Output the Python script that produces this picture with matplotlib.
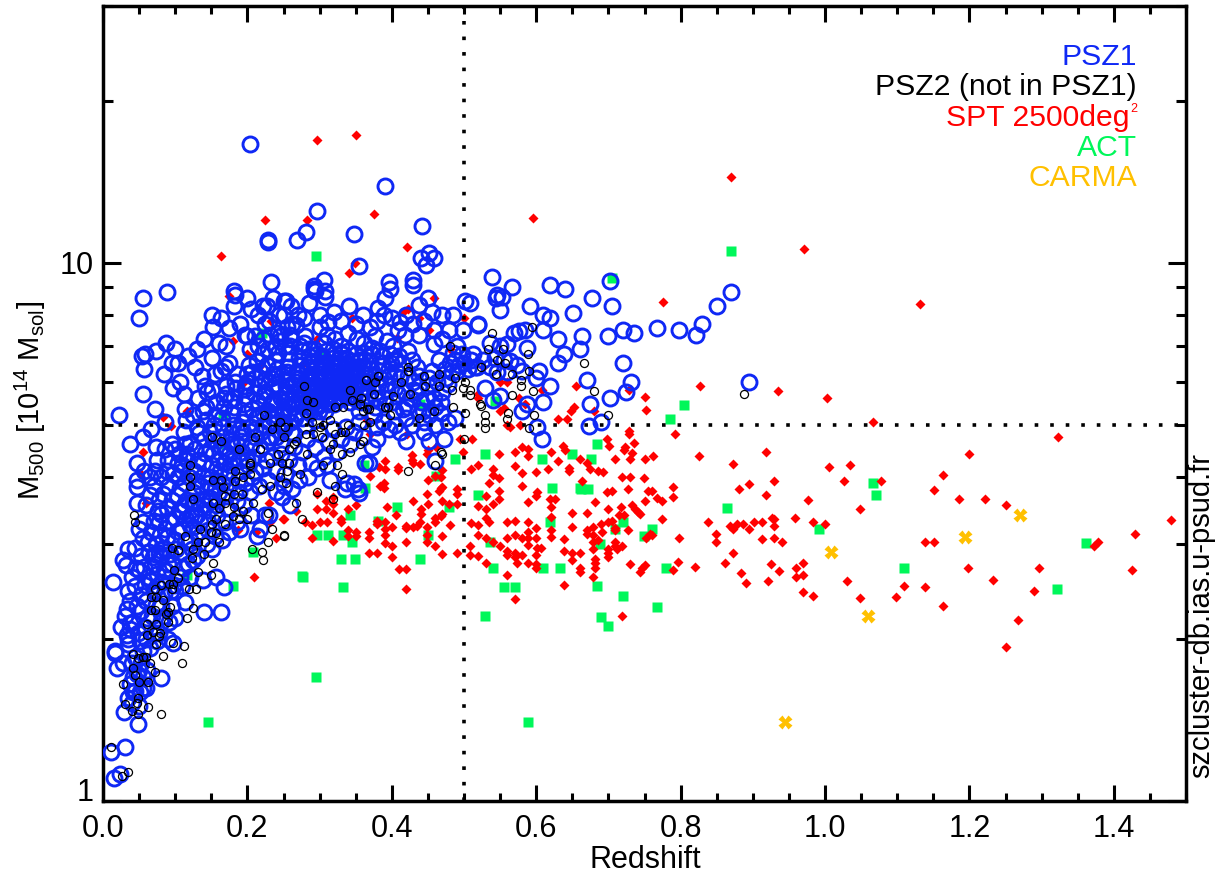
"""Galaxy cluster mass vs redshift: PSZ1, PSZ2, SPT, ACT and CARMA samples."""
import matplotlib
matplotlib.use("Agg")
import matplotlib.pyplot as plt
import numpy as np
from matplotlib.ticker import FixedLocator, NullFormatter

plt.rcParams["font.family"] = ["Liberation Sans", "DejaVu Sans"]
plt.rcParams["mathtext.fontset"] = "custom"
plt.rcParams["mathtext.rm"] = "Liberation Sans"
plt.rcParams["mathtext.default"] = "regular"

BLUE = "#0f28f5"
RED = "#ff0000"
GREEN = "#00f75a"
ORANGE = "#ffc000"

# (redshift, M500 in 1e14 Msol)
carma = [(1.270, 3.40), (1.194, 3.09), (1.009, 2.90), (1.059, 2.20), (0.944, 1.40)]

act = [
    (.295, 10.3), (.870, 10.5), (.705, 9.38), (.295, 1.70), (.1455, 1.40), (.589, 1.40),
    (.180, 2.50), (.276, 2.61), (.488, 4.31), (.529, 4.40), (.608, 4.31), (.650, 4.40),
    (.361, 4.21), (.461, 4.02), (.622, 3.81), (.661, 3.81), (.520, 3.70), (.363, 3.81),
    (.407, 3.51), (.479, 3.51), (.342, 3.39), (.381, 3.31), (.619, 3.30), (.333, 3.12),
    (.297, 3.12), (.311, 3.12), (.345, 3.02), (.450, 3.12), (.536, 3.02), (.330, 2.81),
    (.349, 2.81), (.439, 2.81), (.540, 2.70), (.610, 2.70), (.633, 2.70), (.277, 2.60),
    (.333, 2.49), (.556, 2.49), (.570, 2.49), (.529, 2.20), (.684, 4.60), (.676, 4.31),
    (.662, 3.79), (.672, 3.79), (.864, 3.50), (.991, 3.20), (.720, 3.29), (.709, 3.20),
    (.760, 3.20), (.749, 3.10), (.689, 3.00), (.780, 2.70), (.684, 2.50), (.720, 2.40),
    (.767, 2.29), (.690, 2.19), (.700, 2.11), (.805, 5.43), (.786, 5.12), (.543, 5.52),
    (1.066, 3.90), (1.070, 3.70), (1.361, 3.01), (1.110, 2.70), (1.321, 2.47),
    (.220, 7.40), (.166, 5.20), (.168, 4.60), (.439, 5.47), (.116, 2.63), (.208, 2.90),
    (.300, 6.80),
]

spt = [
    # low redshift, mostly behind the PSZ1 circles
    (.175, 8.66), (.233, 7.80), (.180, 7.15), (.200, 6.75), (.219, 6.45), (.195, 6.00),
    (.116, 5.30), (.083, 5.17), (.094, 4.97), (.055, 4.45), (.051, 4.07), (.060, 3.57),
    (.230, 3.57), (.249, 3.33), (.240, 3.08), (.209, 2.60), (.231, 3.30), (.212, 3.15),
    (.187, 3.18), (.423, 8.20), (.416, 8.10), (.438, 7.90), (.458, 8.60), (.451, 7.50),
    (.500, 7.90), (.480, 6.90), (.296, 7.20), (.278, 6.50), (.407, 7.25), (.345, 7.90),
    (.519, 5.70), (.495, 4.70), (.511, 4.70), (.421, 4.80), (.449, 4.40), (.428, 4.30),
    (.370, 4.80), (.365, 5.10),
    # high masses
    (.296, 16.9), (.351, 17.3), (.375, 12.3), (.225, 12.0), (.283, 12.0), (.164, 10.3),
    (.421, 10.7), (.349, 10.0), (.341, 9.56), (.596, 12.1), (.870, 14.4), (.971, 10.6),
    (1.132, 8.36), (.775, 8.45), (.827, 5.90), (1.003, 5.60), (.935, 5.78), (1.066, 5.05),
    (.655, 5.90), (.750, 5.62), (.752, 5.32), (.729, 5.80), (.652, 5.40), (.648, 5.30),
    (.630, 5.13), (.642, 5.13), (.680, 5.30), (.729, 4.87), (.792, 4.80), (.555, 5.37),
    (.550, 5.30), (.560, 6.00), (.550, 6.00), (.520, 5.60), (.527, 6.40), (.576, 5.60),
    (.585, 5.45), (.608, 5.80), (.578, 5.00), (.564, 4.95), (.559, 5.00),
    # z 0.25 to 0.63
    (.390, 4.28), (.382, 4.17), (.391, 4.13), (.409, 4.17), (.409, 4.12), (.428, 4.39),
    (.430, 4.25), (.439, 4.23), (.450, 4.49), (.461, 4.54), (.470, 4.11), (.460, 4.02),
    (.450, 3.95), (.468, 4.00), (.498, 4.45), (.510, 4.14), (.520, 4.21), (.540, 4.13),
    (.540, 4.03), (.549, 4.40), (.549, 3.98), (.534, 3.89), (.570, 4.19), (.571, 4.45),
    (.580, 4.07), (.580, 4.55), (.589, 4.50), (.589, 4.37), (.600, 4.08), (.617, 4.13),
    (.620, 4.45), (.630, 4.28), (.370, 4.02), (.384, 3.85), (.389, 3.90), (.389, 3.81),
    (.449, 3.71), (.468, 3.81), (.470, 3.83), (.466, 3.76), (.490, 3.79), (.490, 3.72),
    (.430, 3.61), (.450, 3.56), (.470, 3.60), (.479, 3.56), (.490, 3.56), (.394, 3.52),
    (.406, 3.40), (.440, 3.48), (.440, 3.41), (.470, 3.41), (.468, 3.38), (.460, 3.35),
    (.460, 3.30), (.439, 3.30), (.435, 3.24), (.430, 3.22), (.419, 3.24), (.419, 3.21),
    (.449, 3.23), (.449, 3.12), (.449, 3.03), (.480, 3.25), (.470, 3.10), (.460, 2.97),
    (.470, 2.87), (.490, 2.89), (.419, 3.02), (.400, 3.23), (.390, 3.30), (.380, 3.31),
    (.379, 3.26), (.390, 3.20), (.390, 3.11), (.390, 3.01), (.400, 2.97), (.369, 3.15),
    (.369, 3.08), (.350, 3.16), (.350, 3.10), (.340, 3.19), (.340, 3.10), (.369, 2.88),
    (.380, 2.89), (.400, 2.83), (.410, 2.69), (.420, 2.69), (.419, 2.47), (.319, 3.04),
    (.290, 3.08), (.290, 3.25), (.300, 3.29), (.310, 3.29), (.280, 3.29), (.329, 3.34),
    (.329, 3.29), (.250, 3.33), (.268, 3.45), (.296, 3.49), (.309, 3.61), (.309, 3.49),
    (.319, 3.67), (.319, 3.56), (.319, 3.43), (.340, 3.49), (.350, 3.54), (.296, 3.72),
    (.510, 3.28), (.520, 3.25), (.520, 3.12), (.530, 3.08), (.540, 3.03), (.530, 3.49),
    (.540, 3.56), (.520, 3.53), (.530, 3.69), (.549, 3.76), (.549, 3.63), (.530, 3.35),
    (.535, 3.29), (.559, 3.29), (.570, 3.31), (.580, 3.84), (.601, 3.74), (.600, 3.68),
    (.589, 3.59), (.619, 3.63), (.626, 3.63), (.620, 3.51), (.620, 3.36), (.589, 3.29),
    (.600, 3.21), (.589, 3.16), (.589, 3.08), (.620, 3.19), (.620, 3.09), (.600, 3.08),
    (.580, 3.07), (.570, 3.12), (.559, 3.07), (.589, 2.98), (.601, 2.95), (.606, 2.95),
    (.550, 2.97), (.559, 2.91), (.559, 2.86), (.570, 2.89), (.570, 2.83), (.580, 2.86),
    (.574, 2.77), (.589, 2.77), (.600, 2.86), (.600, 2.75), (.600, 2.71), (.509, 2.97),
    (.509, 2.86), (.520, 2.85), (.530, 2.76), (.559, 2.63), (.570, 2.37),
    # z 0.63 to 1.05
    (.698, 4.70), (.701, 4.56), (.637, 4.57), (.640, 4.49), (.729, 4.81), (.736, 4.62),
    (.723, 4.54), (.721, 4.49), (.733, 4.42), (.730, 4.31), (.709, 4.32), (.660, 4.31),
    (.670, 4.24), (.675, 4.13), (.686, 4.09), (.692, 4.08), (.645, 4.16), (.645, 4.09),
    (.750, 4.31), (.762, 4.37), (.826, 4.37), (.872, 4.23), (.918, 4.45), (1.006, 4.17),
    (1.034, 4.21), (1.026, 3.92), (.719, 4.00), (.730, 4.00), (.749, 3.97), (.663, 3.93),
    (.790, 3.82), (.727, 3.79), (.698, 3.75), (.705, 3.76), (.755, 3.77), (.760, 3.76),
    (.790, 3.67), (.767, 3.65), (.774, 3.61), (.750, 3.61), (.681, 3.59), (.733, 3.55),
    (.737, 3.49), (.741, 3.44), (.744, 3.41), (.718, 3.51), (.699, 3.48), (.650, 3.43),
    (.670, 3.42), (.715, 3.40), (.722, 3.40), (.774, 3.34), (.705, 3.31), (.699, 3.29),
    (.690, 3.26), (.679, 3.23), (.650, 3.22), (.670, 3.18), (.670, 3.13), (.679, 3.12),
    (.691, 3.15), (.709, 3.21), (.709, 3.18), (.727, 3.18), (.639, 3.06), (.686, 3.05),
    (.679, 3.02), (.709, 3.03), (.709, 2.97), (.719, 2.97), (.712, 2.94), (.679, 2.93),
    (.700, 2.94), (.700, 2.88), (.700, 2.84), (.639, 2.91), (.650, 2.89), (.660, 2.88),
    (.650, 2.80), (.681, 2.81), (.681, 2.77), (.681, 2.70), (.679, 2.60), (.660, 2.71),
    (.660, 2.66), (.639, 2.52), (.730, 2.75), (.750, 2.74), (.747, 2.70), (.744, 2.66),
    (.757, 3.13), (.761, 3.11), (.752, 3.08), (.798, 3.07), (.790, 2.68), (.797, 2.78),
    (.820, 2.72), (.838, 3.30), (.849, 3.13), (.849, 3.03), (.869, 3.24), (.872, 3.20),
    (.878, 3.26), (.887, 3.27), (.895, 3.20), (.901, 3.29), (.913, 3.30), (.927, 3.35),
    (.930, 3.33), (.930, 3.24), (.959, 3.35), (.983, 3.29), (1.000, 3.26), (.913, 3.06),
    (.930, 3.07), (.940, 3.03), (.872, 2.89), (.861, 2.76), (.884, 2.65), (.890, 2.54),
    (.925, 2.75), (.936, 2.67), (.921, 2.56), (.970, 2.76), (.960, 2.70), (.970, 2.63),
    (.960, 2.60), (.970, 2.44), (.983, 2.40), (1.030, 2.56), (.719, 2.20), (.881, 3.79),
    (.895, 3.87), (.930, 3.92), (.918, 3.70), (.977, 3.62), (1.049, 3.49), (1.049, 2.38),
    # z above 1.05
    (1.323, 4.74), (1.200, 4.41), (1.163, 4.03), (1.151, 3.78), (1.186, 3.63), (1.221, 3.64),
    (1.250, 3.55), (1.077, 3.92), (1.479, 3.32), (1.430, 3.13), (1.378, 3.03), (1.372, 2.97),
    (1.139, 3.03), (1.151, 3.02), (1.198, 2.70), (1.233, 2.57), (1.297, 2.70), (1.425, 2.68),
    (1.290, 2.45), (1.110, 2.50), (1.099, 2.39), (1.139, 2.49), (1.163, 2.30), (1.267, 2.17),
    (1.250, 1.93),
]

psz1 = [
    # outliers and upper fringe
    (.203, 16.6), (.390, 13.9), (.296, 12.5), (.442, 11.7), (.347, 11.3), (.281, 11.4),
    (.269, 11.0), (.228, 11.0), (.228, 10.9), (.451, 10.4), (.440, 10.2), (.459, 10.2),
    (.447, 9.90), (.355, 9.85), (.232, 9.20), (.306, 9.30), (.292, 8.95), (.294, 8.85),
    (.308, 8.65), (.397, 8.95), (.429, 9.10), (.183, 8.70),
    # z above 0.5
    (.539, 9.40), (.566, 9.00), (.619, 9.10), (.640, 8.95), (.677, 8.60), (.705, 8.30),
    (.702, 9.25), (.546, 8.70), (.544, 8.60), (.552, 8.65), (.550, 8.15), (.591, 8.30),
    (.610, 8.00), (.619, 7.90), (.651, 8.05), (.520, 7.65), (.569, 7.40), (.576, 7.45),
    (.585, 7.50), (.609, 7.50), (.630, 7.20), (.663, 7.30), (.700, 7.30), (.720, 7.50),
    (.735, 7.40), (.768, 7.55), (.798, 7.50), (.822, 7.35), (.830, 7.70), (.850, 8.30),
    (.870, 8.80), (.587, 6.95), (.660, 6.90), (.639, 6.75), (.630, 6.50), (.720, 6.50),
    (.536, 7.10), (.550, 7.00), (.559, 7.05), (.604, 6.30), (.600, 6.10), (.670, 6.05),
    (.731, 6.00), (.619, 5.90), (.895, 6.00), (.724, 5.75), (.702, 5.60), (.529, 5.85),
    (.540, 5.55), (.550, 5.65), (.609, 5.50), (.587, 5.45), (.581, 5.30), (.675, 5.45),
    (.690, 5.05), (.673, 4.97), (.601, 4.95), (.608, 4.70), (.509, 8.40), (.518, 6.40),
    (.527, 6.60), (.543, 6.65), (.555, 6.60), (.564, 6.55), (.573, 6.45), (.580, 6.30),
    (.536, 6.40), (.546, 6.25), (.559, 6.25),
    # z 0.25 to 0.5, upper part
    (.396, 9.20), (.430, 9.30), (.308, 8.85), (.292, 9.05), (.254, 8.50), (.341, 8.30),
    (.390, 8.60), (.381, 8.25), (.389, 8.00), (.437, 8.35), (.450, 8.60), (.455, 8.10),
    (.502, 8.50), (.485, 8.00), (.469, 8.00), (.520, 7.70), (.459, 7.50), (.479, 7.50),
    (.499, 7.50), (.300, 8.00), (.279, 7.90), (.268, 7.65), (.255, 7.60), (.312, 7.75),
    (.350, 7.70), (.370, 7.60), (.411, 7.75), (.408, 7.50), (.340, 7.40), (.321, 7.20),
    (.310, 7.35), (.280, 7.30), (.259, 7.35), (.245, 7.30), (.285, 6.90), (.252, 7.00),
    (.331, 6.75), (.377, 7.30), (.393, 7.15), (.418, 7.35), (.437, 7.35), (.458, 7.05),
    (.485, 6.80), (.423, 6.85), (.405, 6.60), (.384, 6.85), (.361, 7.10), (.356, 6.60),
    (.305, 6.50), (.319, 6.40),
    # left edge, z below 0.25
    (.089, 8.80), (.055, 8.60), (.050, 7.90), (.182, 8.85), (.181, 8.30), (.205, 8.20),
    (.222, 8.30), (.227, 8.30), (.251, 8.50), (.151, 8.00), (.164, 7.90), (.152, 7.60),
    (.197, 7.35), (.199, 7.30), (.170, 7.00), (.087, 7.10), (.054, 6.70), (.058, 6.75),
    (.074, 6.85), (.151, 6.65), (.095, 6.50), (.104, 6.50), (.127, 6.40), (.057, 6.35),
    (.137, 6.15), (.174, 6.50), (.169, 6.40), (.163, 6.30), (.107, 6.00), (.097, 5.85),
    (.055, 5.70), (.141, 5.90), (.151, 5.80), (.170, 5.90), (.207, 6.25), (.196, 5.90),
    (.072, 5.35), (.022, 5.20), (.114, 5.35), (.132, 5.60), (.139, 5.30), (.144, 5.75),
    (.176, 5.55), (.086, 5.05), (.067, 4.90), (.055, 4.75), (.112, 4.85), (.114, 4.60),
    (.038, 4.60), (.073, 4.55), (.047, 4.25), (.057, 4.10), (.086, 4.50), (.116, 4.30),
    (.072, 4.10), (.088, 4.10), (.104, 4.25), (.148, 4.85), (.148, 4.50), (.176, 4.65),
    (.167, 4.25), (.047, 3.95), (.065, 4.00), (.047, 3.83), (.047, 3.57), (.078, 3.62),
    (.034, 2.94), (.044, 2.95), (.028, 2.80), (.032, 2.74), (.050, 2.68), (.014, 2.55),
    (.077, 3.30), (.056, 3.07), (.072, 2.87), (.084, 2.68), (.058, 2.52), (.033, 2.27),
    (.047, 2.30), (.140, 2.24), (.164, 2.24), (.167, 2.49), (.157, 2.60), (.139, 2.57),
    (.151, 2.93), (.114, 2.34), (.100, 2.18), (.097, 1.96), (.017, 1.90), (.028, 1.80),
    (.037, 2.08), (.037, 2.14), (.033, 2.03), (.051, 1.98), (.248, 3.67), (.224, 3.40),
    (.213, 3.10), (.017, 1.88), (.019, 1.76), (.081, 1.69), (.042, 1.59), (.051, 1.59),
    (.056, 1.62), (.029, 1.46), (.049, 1.39), (.031, 1.26), (.011, 1.23), (.023, 1.12),
    (.015, 1.10), (.037, 1.65), (.042, 1.70), (.061, 1.75),
    # lower edge of the cloud
    (.363, 4.25), (.335, 3.80), (.353, 3.80), (.315, 3.95), (.230, 3.40), (.218, 3.20),
    (.259, 3.55), (.338, 3.90), (.348, 3.88), (.355, 3.73), (.368, 4.25), (.460, 4.28),
    (.472, 4.70), (.452, 4.65), (.379, 4.95), (.421, 5.40), (.437, 5.90),
]

# the solid part of the cloud: single circles cannot be told apart here, so
# these only follow how far the blue extends at each redshift
psz1_crowd = [
    (.034, 2.00), (.038, 2.35), (.041, 2.15), (.044, 2.50), (.046, 2.70), (.048, 2.05),
    (.052, 2.25), (.053, 2.85), (.055, 1.90), (.058, 2.10), (.060, 2.35), (.062, 2.60),
    (.064, 2.90), (.066, 3.15), (.068, 2.20), (.070, 2.45), (.072, 2.75), (.074, 3.00),
    (.076, 3.45), (.078, 2.05), (.080, 2.30), (.082, 2.55), (.084, 2.95), (.086, 3.20),
    (.088, 3.50), (.090, 3.85), (.092, 2.15), (.094, 2.45), (.096, 2.75), (.098, 3.05),
    (.100, 3.35), (.102, 3.70), (.104, 4.00), (.106, 2.60), (.108, 2.90), (.110, 3.20),
    (.112, 3.55), (.114, 3.90), (.116, 4.40), (.118, 2.75), (.120, 3.05), (.122, 3.40),
    (.124, 3.75), (.126, 4.10), (.128, 4.50), (.130, 2.85), (.132, 3.15), (.134, 3.50),
    (.136, 3.85), (.138, 4.25), (.140, 4.70), (.142, 5.10), (.144, 3.00), (.146, 3.30),
    (.148, 3.65), (.150, 4.00), (.152, 4.40), (.154, 5.00), (.156, 5.50), (.158, 3.40),
    (.160, 3.75), (.162, 4.10), (.164, 4.55), (.166, 4.95), (.168, 5.40), (.170, 5.70),
    (.172, 3.50), (.174, 3.85), (.176, 4.20), (.178, 4.60), (.180, 5.00), (.182, 5.40),
    (.184, 5.85), (.186, 6.20), (.188, 3.75), (.190, 4.10), (.192, 4.45), (.194, 4.85),
    (.196, 5.25), (.198, 5.65), (.200, 6.00), (.202, 6.45), (.204, 6.90), (.206, 4.00),
    (.208, 4.35), (.210, 4.75), (.212, 5.15), (.214, 5.50), (.216, 5.90), (.218, 6.30),
    (.220, 6.75), (.222, 7.20), (.224, 7.70), (.226, 4.30), (.228, 4.65), (.230, 5.05),
    (.232, 5.45), (.234, 5.85), (.236, 6.20), (.238, 6.60), (.240, 7.00), (.242, 7.40),
    (.244, 8.00), (.246, 4.60), (.248, 5.00), (.250, 5.30), (.252, 5.70), (.254, 6.05),
    (.256, 6.40), (.258, 6.80), (.260, 7.20), (.262, 7.70), (.264, 4.80), (.266, 5.15),
    (.268, 5.50), (.270, 5.80), (.272, 6.10), (.274, 6.45), (.276, 6.85), (.278, 7.10),
    (.280, 5.00), (.282, 5.30), (.284, 5.60), (.286, 5.90), (.288, 6.20), (.290, 6.55),
    (.292, 6.90), (.294, 5.10), (.296, 5.40), (.298, 5.70), (.300, 6.00), (.302, 6.30),
    (.304, 6.70), (.306, 7.10), (.308, 5.30), (.310, 5.60), (.312, 5.85), (.314, 6.15),
    (.316, 6.50), (.318, 6.90), (.320, 5.45), (.322, 5.75), (.324, 6.00), (.326, 6.30),
    (.328, 6.65), (.330, 7.00), (.332, 5.60), (.334, 5.90), (.336, 6.20), (.338, 6.50),
    (.340, 6.85), (.342, 5.50), (.344, 5.80), (.346, 6.10), (.348, 6.40), (.350, 6.75),
    (.352, 7.20), (.354, 5.30), (.356, 5.70), (.358, 6.05), (.360, 6.40), (.362, 6.80),
    (.364, 5.50), (.366, 5.85), (.368, 6.20), (.370, 6.55), (.372, 6.95), (.375, 5.20),
    (.378, 5.60), (.381, 5.95), (.384, 6.30), (.387, 6.70), (.390, 5.45), (.393, 5.80),
    (.396, 6.15), (.399, 6.50), (.402, 7.00), (.405, 5.30), (.408, 5.70), (.411, 6.10),
    (.414, 6.50), (.420, 5.15), (.425, 5.60), (.430, 6.00), (.435, 6.40), (.440, 5.50),
    (.445, 5.05), (.450, 5.90), (.455, 6.30), (.460, 5.40), (.465, 6.60), (.470, 5.75),
    (.475, 6.10), (.480, 6.50), (.490, 6.30), (.500, 6.50), (.510, 6.60), (.515, 6.40),
    (.053, 2.41), (.057, 2.72), (.061, 2.18), (.063, 3.02), (.067, 2.56), (.069, 2.83),
    (.071, 3.31), (.073, 2.31), (.075, 2.64), (.077, 2.88), (.079, 3.12), (.081, 3.41),
    (.083, 3.72), (.085, 2.42), (.087, 2.67), (.089, 3.09), (.091, 3.31), (.093, 2.87),
    (.095, 3.62), (.097, 4.05), (.099, 2.52), (.101, 2.93), (.103, 3.17), (.105, 3.46),
    (.107, 3.81), (.109, 4.20), (.111, 2.71), (.113, 3.02), (.115, 3.33), (.117, 3.62),
    (.119, 4.00), (.121, 4.62), (.123, 2.94), (.125, 3.23), (.127, 3.57), (.129, 3.92),
    (.131, 4.30), (.133, 4.82), (.135, 3.30), (.137, 3.63), (.139, 4.02), (.141, 4.42),
    (.143, 5.40), (.145, 3.18), (.147, 3.47), (.149, 3.81), (.151, 4.20), (.153, 4.70),
    (.155, 5.20), (.157, 3.55), (.159, 3.92), (.161, 4.30), (.163, 4.75), (.165, 5.15),
    (.167, 5.60), (.169, 3.30), (.171, 3.68), (.173, 4.02), (.175, 4.40), (.177, 4.82),
    (.179, 5.22), (.181, 5.60), (.183, 6.00), (.185, 3.60), (.187, 3.95), (.189, 4.28),
    (.191, 4.65), (.193, 5.05), (.195, 5.45), (.197, 5.82), (.199, 6.20), (.201, 4.20),
    (.203, 4.55), (.205, 4.95), (.207, 5.35), (.209, 5.72), (.211, 6.10), (.213, 6.55),
    (.215, 7.00), (.217, 4.50), (.219, 4.85), (.221, 5.25), (.223, 5.65), (.225, 6.05),
    (.227, 6.45), (.229, 6.90), (.231, 7.35), (.233, 4.75), (.235, 5.15), (.237, 5.55),
    (.239, 5.95), (.241, 6.35), (.243, 6.80), (.245, 7.15), (.247, 4.85), (.249, 5.20),
    (.251, 5.50), (.253, 5.90), (.255, 6.25), (.257, 6.60), (.259, 7.00), (.261, 5.05),
    (.263, 5.40), (.265, 5.70), (.267, 6.00), (.269, 6.30), (.271, 6.65), (.273, 7.00),
    (.275, 5.15), (.277, 5.45), (.279, 5.75), (.281, 6.05), (.283, 6.40), (.285, 6.70),
    (.287, 5.25), (.289, 5.50), (.291, 5.80), (.293, 6.10), (.295, 6.40), (.297, 6.75),
    (.299, 5.30), (.301, 5.55), (.303, 5.85), (.305, 6.15), (.307, 6.45), (.309, 6.85),
    (.311, 5.45), (.313, 5.70), (.315, 6.00), (.317, 6.30), (.319, 6.65), (.321, 5.60),
    (.323, 5.90), (.325, 6.15), (.327, 6.45), (.329, 6.80), (.331, 5.75), (.333, 6.05),
    (.335, 6.35), (.337, 6.65), (.339, 5.65), (.341, 5.95), (.343, 6.25), (.345, 6.55),
    (.347, 5.60), (.349, 5.90), (.351, 6.25), (.353, 6.55), (.357, 5.50), (.359, 5.85),
    (.361, 6.20), (.363, 6.60), (.367, 5.65), (.369, 6.00), (.371, 6.35), (.373, 6.75),
    (.377, 5.40), (.379, 5.75), (.383, 6.10), (.386, 6.50), (.389, 5.60), (.392, 5.95),
    (.395, 6.30), (.398, 6.75), (.401, 5.50), (.404, 5.85), (.407, 6.25), (.410, 6.70),
    (.415, 5.35), (.418, 5.75), (.422, 6.15), (.428, 6.60), (.433, 5.75), (.438, 6.15),
    (.443, 5.30), (.448, 5.60), (.452, 6.10), (.458, 5.60), (.463, 6.00), (.468, 5.50),
    (.473, 6.35), (.478, 5.95), (.483, 6.25), (.488, 6.60), (.493, 6.45), (.497, 6.75),
    (.505, 6.35), (.512, 6.75), (.085, 6.20), (.100, 6.90), (.112, 5.70), (.118, 6.70),
    (.125, 5.20), (.130, 6.90), (.140, 7.20), (.155, 6.20), (.160, 7.10), (.175, 7.55),
    (.190, 7.70), (.200, 8.60), (.210, 7.30), (.215, 8.00), (.230, 7.80), (.235, 8.60),
    (.250, 8.00), (.260, 8.30), (.270, 8.00), (.285, 8.40), (.300, 7.60), (.320, 8.10),
    (.330, 7.80), (.360, 8.00), (.380, 7.80), (.400, 7.90), (.420, 8.00), (.430, 7.70),
    (.445, 7.80), (.470, 7.20), (.490, 7.00), (.060, 2.00), (.065, 1.92), (.070, 2.05),
    (.075, 1.98), (.080, 2.15), (.085, 2.20), (.090, 2.00), (.095, 2.30), (.100, 2.45),
    (.110, 2.50), (.120, 2.60), (.125, 2.80), (.035, 1.95), (.040, 1.80), (.045, 1.85),
    (.050, 1.75), (.055, 1.70), (.045, 1.60), (.047, 1.72), (.053, 1.80), (.060, 1.62),
    (.035, 1.55), (.040, 1.52), (.050, 1.50), (.025, 2.10), (.030, 2.20), (.040, 2.60),
    (.035, 2.45), (.050, 3.20), (.055, 3.30), (.060, 3.55), (.065, 3.70), (.070, 3.85),
    (.075, 4.30), (.080, 4.00), (.090, 4.30), (.095, 4.60), (.100, 4.50), (.105, 4.40),
    (.110, 4.10), (.130, 4.95), (.115, 5.10), (.222, 5.00), (.228, 5.30), (.234, 5.50),
    (.240, 5.20), (.246, 5.60), (.250, 5.05), (.256, 5.25), (.262, 5.55), (.268, 5.25),
    (.274, 5.55), (.280, 5.70), (.286, 5.40), (.292, 5.60), (.298, 5.45), (.304, 5.70),
    (.310, 5.50), (.316, 5.80), (.322, 5.55), (.328, 5.85), (.334, 5.70), (.340, 5.85),
    (.346, 5.70), (.352, 5.95), (.360, 6.00), (.366, 6.10), (.225, 5.75), (.232, 6.10),
    (.240, 6.15), (.248, 6.15), (.255, 5.75), (.262, 5.95), (.270, 6.20), (.278, 5.95),
    (.285, 6.10), (.293, 5.95), (.300, 6.20), (.308, 6.10), (.315, 6.20), (.322, 6.40),
    (.330, 6.20), (.338, 6.05), (.345, 6.30), (.352, 6.40), (.240, 4.75), (.250, 4.90),
    (.260, 4.85), (.200, 4.30), (.205, 4.60), (.210, 4.90), (.215, 5.20), (.190, 4.90),
    (.185, 4.60), (.180, 4.30), (.175, 4.10), (.170, 4.45), (.165, 3.90), (.155, 3.80),
    (.150, 3.60), (.145, 3.90), (.140, 3.55), (.130, 3.40), (.125, 3.60), (.120, 3.25),
    (.110, 3.45), (.100, 3.05), (.090, 2.75), (.080, 2.85), (.075, 2.50),
    (.196, 3.90), (.203, 3.75), (.210, 4.10), (.216, 3.85), (.222, 4.15), (.228, 3.95),
    (.234, 4.35), (.240, 4.10), (.246, 4.40), (.252, 4.05), (.258, 4.30), (.264, 4.55),
    (.270, 4.20), (.276, 4.45), (.282, 4.70), (.288, 4.25), (.294, 4.55), (.300, 4.80),
    (.306, 4.35), (.312, 4.65), (.318, 4.90), (.324, 4.45), (.330, 4.70), (.336, 4.95),
    (.342, 4.60), (.348, 4.85), (.354, 5.05), (.360, 4.75), (.372, 4.55), (.380, 4.70),
    (.388, 5.05), (.396, 4.90), (.404, 5.00), (.412, 4.85), (.420, 4.65), (.428, 5.00),
    (.436, 5.30), (.444, 4.85), (.452, 5.20), (.460, 5.00), (.468, 5.25), (.478, 5.05),
    (.488, 5.15), (.262, 3.80), (.272, 3.95), (.284, 4.00), (.296, 4.15), (.310, 4.20),
    (.240, 3.75), (.250, 3.85), (.205, 3.40), (.195, 3.55), (.185, 3.30), (.175, 3.15),
    (.165, 3.05), (.155, 3.10), (.190, 3.20),
]

psz2 = [
    (.109, 1.80), (.028, 1.65), (.072, 1.73), (.083, 1.86), (.055, 1.85), (.049, 1.84),
    (.060, 1.85), (.041, 1.76), (.044, 1.71), (.050, 1.66), (.062, 1.66), (.048, 1.55),
    (.030, 1.51), (.047, 1.52), (.062, 1.49), (.040, 1.47), (.049, 1.45), (.080, 1.45),
    (.011, 1.26), (.035, 1.13), (.026, 1.11), (.042, 1.87), (.065, 1.80),
    (.043, 3.40), (.045, 3.30), (.121, 3.85), (.124, 3.63), (.134, 3.20), (.113, 3.10),
    (.096, 2.95), (.104, 2.92), (.125, 2.94), (.132, 3.03), (.141, 3.02), (.160, 3.03),
    (.123, 2.82), (.140, 2.87), (.153, 2.76), (.098, 2.68), (.132, 2.66), (.149, 2.63),
    (.104, 2.59), (.081, 2.52), (.091, 2.53), (.097, 2.53), (.072, 2.47), (.119, 2.47),
    (.129, 2.47), (.095, 2.47), (.067, 2.39), (.073, 2.39), (.083, 2.36), (.067, 2.26),
    (.072, 2.26), (.093, 2.29), (.087, 2.22), (.090, 2.24), (.125, 2.28), (.116, 2.18),
    (.090, 2.15), (.061, 2.13), (.073, 2.13), (.069, 2.06), (.079, 2.05), (.061, 2.03),
    (.078, 2.02), (.074, 1.95), (.097, 1.96), (.112, 1.94),
    (.169, 3.68), (.181, 3.72), (.192, 3.72), (.166, 3.83), (.183, 3.92), (.194, 4.00),
    (.204, 4.05), (.152, 3.58), (.160, 3.50), (.181, 3.52), (.169, 3.57), (.151, 3.26),
    (.157, 3.34), (.149, 3.15), (.157, 3.14), (.169, 3.26), (.180, 3.38), (.194, 3.45),
    (.199, 3.34), (.188, 3.33), (.208, 3.57), (.229, 3.42), (.234, 3.20), (.229, 3.03),
    (.250, 3.10), (.206, 2.94), (.220, 2.90), (.222, 2.80), (.220, 3.80), (.231, 3.85),
    (.245, 4.00), (.254, 3.90),
    (.481, 7.00), (.423, 6.40), (.422, 6.30), (.445, 6.15), (.466, 6.20), (.488, 6.10),
    (.502, 6.00), (.509, 5.80), (.381, 6.15), (.364, 6.05), (.377, 6.00), (.413, 6.00),
    (.446, 5.90), (.466, 5.90), (.483, 5.80), (.498, 5.85), (.279, 5.90), (.342, 5.80),
    (.425, 5.70), (.402, 5.65), (.282, 5.55), (.291, 5.50), (.345, 5.55), (.358, 5.60),
    (.375, 5.70), (.321, 5.40), (.332, 5.40), (.356, 5.45), (.365, 5.35), (.390, 5.40),
    (.395, 5.40), (.281, 5.25), (.360, 5.30), (.368, 5.35), (.398, 5.20), (.485, 5.40),
    (.502, 5.25), (.522, 5.45), (.458, 5.30), (.437, 5.15), (.289, 5.05), (.315, 5.10),
    (.305, 5.00), (.340, 5.00), (.361, 5.00), (.370, 5.05), (.300, 4.95), (.252, 4.95),
    (.281, 4.80), (.291, 4.80), (.303, 4.75), (.321, 4.80), (.329, 4.85), (.335, 4.85),
    (.250, 4.75), (.268, 4.65), (.264, 4.60), (.360, 4.65), (.356, 4.60), (.500, 4.70),
    (.469, 4.40), (.460, 4.20), (.423, 4.10), (.318, 4.60), (.315, 4.50), (.331, 4.40),
    (.282, 4.40), (.258, 4.50), (.342, 4.45), (.248, 4.25), (.257, 4.25), (.255, 4.10),
    (.305, 4.20), (.324, 4.20), (.331, 4.05), (.273, 4.05), (.296, 3.74), (.321, 3.85),
    (.319, 3.63), (.267, 3.58), (.275, 3.34), (.250, 3.12), (.468, 4.44),
    (.223, 5.20), (.210, 4.75), (.151, 4.75), (.164, 4.65), (.234, 4.90), (.245, 5.05),
    (.188, 4.50), (.218, 4.50), (.243, 4.40), (.204, 4.25), (.120, 4.20), (.120, 4.00),
    (.183, 4.10), (.231, 4.25), (.204, 4.20), (.164, 3.95), (.153, 3.95),
    (.539, 7.40), (.594, 7.60), (.533, 6.90), (.554, 6.90), (.588, 6.77), (.546, 6.60),
    (.557, 6.50), (.523, 6.40), (.544, 6.20), (.566, 6.20), (.590, 6.30), (.579, 6.06),
    (.579, 5.90), (.666, 6.50), (.680, 5.76), (.566, 5.68), (.596, 5.76), (.509, 5.67),
    (.524, 5.41), (.888, 5.70), (.529, 5.20), (.529, 5.06), (.529, 4.93), (.561, 5.25),
    (.560, 5.13), (.597, 5.20), (.590, 4.93), (.700, 5.20),
]

x_major = [0.0, 0.2, 0.4, 0.6, 0.8, 1.0, 1.2, 1.4]
y_major = [1, 10]
y_minor = [2, 3, 4, 5, 6, 7, 8, 9, 20, 30]
z_split, m_split = 0.5, 5.0
legend_names = ["PSZ1", "PSZ2 (not in PSZ1)", "SPT 2500deg", "ACT", "CARMA"]
legend_colors = [BLUE, "black", RED, GREEN, ORANGE]

fig = plt.figure(figsize=(12.25, 8.8), dpi=100, facecolor="white")
ax = fig.add_axes([103 / 1225, 1 - 800.5 / 880, 1083 / 1225, 794.5 / 880])
ax.set_yscale("log")
ax.set_xlim(0, 1.5)
ax.set_ylim(1, 30)


def draw(points, **style):
    z, m = np.array(points).T
    ax.plot(z, m, linestyle="none", **style)


draw(act, marker="s", ms=7.2, mfc=GREEN, mec="none", zorder=2)
draw(spt, marker="D", ms=5.0, mfc=RED, mec="none", zorder=3)
draw(carma, marker="X", ms=9.5, mfc=ORANGE, mec="none", zorder=3)
draw(psz1_crowd, marker="o", ms=10.8, mfc="none", mec=BLUE, mew=2.1, zorder=4)
draw(psz1, marker="o", ms=10.8, mfc="none", mec=BLUE, mew=2.1, zorder=4)
draw(psz2, marker="o", ms=5.8, mfc="none", mec="black", mew=0.9, zorder=5)

dots = (0, (1, 3.3))
ax.axvline(z_split, color="black", lw=2.6, linestyle=dots, dash_capstyle="butt", zorder=6)
ax.axhline(m_split, color="black", lw=2.6, linestyle=dots, dash_capstyle="butt", zorder=6)

for spine in ax.spines.values():
    spine.set_linewidth(2.5)

ax.xaxis.set_major_locator(FixedLocator(x_major))
ax.xaxis.set_minor_locator(FixedLocator(np.arange(0, 1.501, 0.05)))
ax.yaxis.set_major_locator(FixedLocator(y_major))
ax.yaxis.set_minor_locator(FixedLocator(y_minor))
ax.xaxis.set_minor_formatter(NullFormatter())
ax.yaxis.set_minor_formatter(NullFormatter())
ax.set_xticklabels([f"{v:.1f}" for v in x_major])
ax.set_yticklabels([str(v) for v in y_major])
ax.tick_params(which="both", direction="in", top=True, right=True, width=2.2, labelsize=22)
ax.tick_params(axis="x", which="major", length=11.5, pad=10)
ax.tick_params(axis="x", which="minor", length=5.8)
ax.tick_params(axis="y", which="major", length=13, pad=7)
ax.tick_params(axis="y", which="minor", length=7)
ax.get_yticklabels()[0].set_va("baseline")

fig.text(645 / 1225, 1 - 860 / 880, "Redshift", fontsize=22, ha="center", va="center")
fig.text(30 / 1225, 1 - 400 / 880, r"M$_{500}$ [10$^{14}$ M$_{sol}$]", fontsize=21,
         rotation=90, ha="center", va="center")
fig.text(1201 / 1225, 1 - 778 / 880, "szcluster-db.ias.u-psud.fr", fontsize=21,
         rotation=90, ha="center", va="bottom")

legend_right = [1137, 1137, 1129, 1137, 1137]
for name, color, y_px, x_px in zip(legend_names, legend_colors, [57, 87, 118, 148, 178], legend_right):
    fig.text(x_px / 1225, 1 - y_px / 880, name, color=color, fontsize=21.7, ha="right", va="center")
fig.text(1130 / 1225, 1 - 109 / 880, "2", color=RED, fontsize=9, ha="left", va="center")

fig.savefig("out.png", dpi=100, facecolor="white")
